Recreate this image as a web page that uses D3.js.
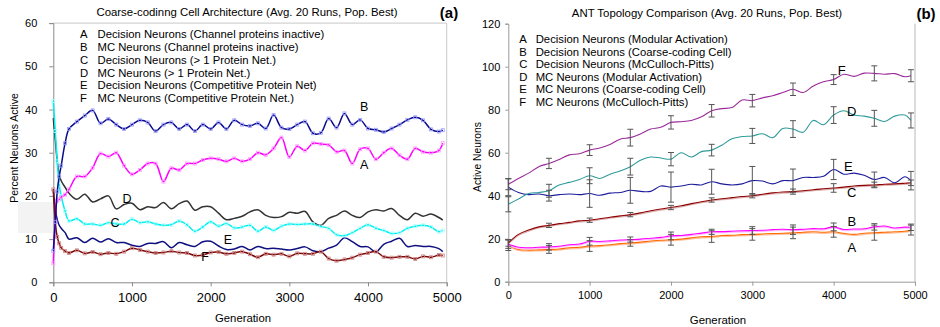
<!DOCTYPE html>
<html>
<head>
<meta charset="utf-8">
<script src="https://cdn.jsdelivr.net/npm/d3@7"></script>
<style>
  body { margin: 0; background: #fff; }
  svg text { font-family: "Liberation Sans", Arial, sans-serif; fill: #000; }
</style>
</head>
<body>
<div class="chartDiv"></div>
<script>
"use strict"

// ---- left panel data (percent neurons active) ----
var leftTitle = "Coarse-codinng Cell Architecture (Avg. 20 Runs, Pop. Best)";
var leftGen = [0,25,50,75,100,150,200,300,400,500,600,700,800,900,1000,1100,1200,1300,1400,1500,1600,1700,1800,1900,2000,
               2100,2200,2300,2400,2500,2600,2700,2800,2900,3000,3100,3200,3300,3400,3500,3600,3700,3800,3900,4000,
               4100,4200,4300,4400,4500,4600,4700,4800,4900,4950];
var leftA = [4.4,14,18.9,19.2,19.7,20.3,21.5,24.5,24.5,26.5,29.8,29.1,30,27,25,26,27.5,27.5,23.3,26.4,26,27.5,27.5,28.3,28.7,
             28.5,28,28.7,28,28.5,30,29.5,31,33.5,29,31.5,30.5,32.2,32,31.8,30.2,30.5,27.5,30.8,31,
             28.5,30,31,29.4,28.5,31,30.2,30,30.5,32.2];
var leftB = [7.3,14,21,24.5,27,32.2,35.5,37.2,38.6,39.8,36.8,37.8,36.5,35.5,36.5,37.5,37,35,36.5,37,35.5,36.5,35,36.5,35.5,
             37,35.5,37.5,36.5,36.2,36.8,35.6,38.7,35.8,35.5,36.5,37.2,34.5,34.6,37.9,35.8,39.1,36.5,37.6,35.6,
             35.3,34.8,35.6,36.5,37.6,38.2,37.5,35.4,34.9,35.2];
var leftC = [42,35,28,22.5,20,16.5,14.2,14.7,13.5,13.5,13.2,13.8,13.5,13.5,14.6,13.8,14,13.5,13.2,13.3,14.2,13.3,11.8,12.8,14,
             13,13.6,12.6,12.8,13.2,11.8,12.8,12,13,13.5,13.4,13.5,13.5,12.9,12.5,11,10.8,11.5,12.5,13.3,
             12.5,12,11.3,11.5,12.5,13,13.2,12.8,11.7,12];
var leftD = [38,33,28,25,23.5,22,20.6,19.2,20.4,18.6,19.3,20,17,18,18.3,16.8,17.5,17.3,18.5,17,18.2,18.8,16.7,17.5,17.5,
             16,14.5,14.8,15.3,16.3,16.8,15.5,15,15.2,16.2,16,16.4,14,13.2,14.8,15.5,16.5,15.5,15,16.3,
             16.8,16.5,17.1,15.5,14.5,16,15.3,15.8,15,14.4];
var leftE = [21.5,17,14.5,13.2,12.5,11.5,10,10.3,9.2,10.2,9.3,10.1,9.2,9.2,8.6,8.3,9,9,9.4,8,9.2,8.7,8.3,9.4,9.5,
             8.4,7.6,7.7,8.3,7.5,8.3,7.8,7.9,7.7,7.5,7.8,8.2,7.3,7.1,7.9,8.6,10.3,9.4,8.3,8.2,
             7,8.8,9.5,10.2,8.3,8.5,8.3,8.3,7.8,7.1];
var leftF = [21.5,14,10.5,9,8,7.2,6.8,7.4,6.7,7,6.5,6.8,6.6,7.1,7.9,7.5,7.1,6.8,6.9,7.2,6.9,6.8,6.2,6.3,6.9,
             7,6.6,6.8,7.1,6.5,5.8,6.6,6.4,6.6,6,6.7,6.6,6.6,7.1,5.5,5,5.3,5.7,6.4,6.8,
             7.1,5.9,5.7,5.9,5.9,5.4,6,5.8,6.3,6.2];
var leftLegend = ["Decision Neurons (Channel proteins inactive)", "MC Neurons (Channel proteins inactive)",
                  "Decision Neurons (> 1 Protein Net.)", "MC Neurons (> 1 Protein Net.)",
                  "Decision Neurons (Competitive Protein Net)", "MC Neurons (Competitive Protein Net.)"];
// in-plot letter tags, [generation, value]
var leftTags = {A: [3950, 27.2], B: [3950, 40.6], C: [784, 13.7], D: [936, 19.3], E: [2220, 9.8], F: [1928, 5.9]};

// ---- right panel data (active neurons) ----
var rightTitle = "ANT Topology Comparison (Avg. 20 Runs, Pop. Best)";
var rightGen = [0,125,250,375,500,625,750,875,1000,1125,1250,1375,1500,1625,1750,1875,2000,2125,2250,2375,2500,
                2625,2750,2875,3000,3125,3250,3375,3500,3625,3750,3875,4000,4125,4250,4375,4500,4625,4750,4875,4950];
var rightA = [17,15,14.7,14.8,15,15.2,15.8,16,16.6,16.8,17.2,17.7,18,18.4,18.9,19.3,19.5,19.8,20.4,20.9,21,
              21.5,21.6,21.9,22,22.2,22.4,22.5,22.7,23,23.2,23,23.2,22.5,22,22.5,22.8,23,23.2,23.5,24];
var rightB = [17.5,16,15.8,16,16.2,16.5,17.2,17.5,18.8,18.7,19,19.4,19.6,19.8,20.2,20.6,21.3,21.5,22,22.6,23.2,
              23.3,23.5,23.7,23.8,23.9,24.2,24.4,24.2,24.4,24.7,24.6,25.5,24.3,24.5,24.6,25.5,25.9,25,25.4,25.3];
var rightC = [18,22,24,25.5,26.2,27,27.6,28.3,28.6,29.3,30,30.6,31.2,32,33,33.8,34.5,35.3,36.3,37.2,38,
              38.6,39.1,39.6,40,40.7,41.3,41.7,41.9,42.3,42.8,43.2,43.6,44,44.5,44.8,45,45.3,45.5,45.8,46];
var rightD = [36,38.5,41,41.5,42.3,45,46.2,47.5,49.3,48,50,51.5,53.5,56.5,58,57.5,57,60,58,60.5,61.2,
              63.5,66.5,67.5,67.8,68.8,67,71.3,71,69.5,75,73,77.5,79.5,77.5,77,76,74.5,77,77.5,75];
var rightE = [44,41.5,40.5,40.8,40,40.5,40.8,40.5,41,40.2,41.2,41.5,42.5,42,42,44.5,44,44.5,45.3,45,46.5,
              45.5,45,45.5,47,46.8,45.5,47,47,48.5,48.5,49,52.2,50,50.5,49.5,47.5,48.5,46,48.8,47];
var rightF = [45.3,48,50.5,53.5,55,56.8,59,59.5,61.2,62.2,63.8,66.3,67,68.7,71,71.8,74.1,74.4,75,76.7,79.5,
              80.5,81,84.5,84.2,85.5,86.5,88,89.5,88,91,93,94,96.5,95.5,97,96.9,96.5,96.8,95.3,95.8];
// error bars (half widths) at these generations
var errGen = [0,500,1000,1500,2000,2500,3000,3500,4000,4500,4950];
var errA = [2.5,1.8,2.5,1.5,2.5,2.7,2.7,2.7,2.5,3.5,2.3];
var errB = [2,1.5,1.8,1.2,1.8,1.2,1.8,2.2,1.8,1.5,1.5];
var errC = [1.5,1,1,1,1,1,1,1.2,2,1.3,1.3];
var errD = [3.5,3,3.7,3.9,3.1,2.7,3.5,3.9,3.9,3.7,3.5];
var errE = [4,2.5,6.4,6,7,5.8,6.6,5.4,4.7,3.5,4.3];
var errF = [2.5,2.4,2.5,3.9,3.1,2.9,2.9,2.9,2.3,3.5,2.8];
var rightLegend = ["Decision Neurons (Modular Activation)", "Decision Neurons (Coarse-coding Cell)",
                   "Decision Neurons (McCulloch-Pitts)", "MC Neurons (Modular Activation)",
                   "MC Neurons (Coarse-coding Cell)", "MC Neurons (McCulloch-Pitts)"];
var rightTags = {A: [4222, 15.8], B: [4222, 28.2], C: [4222, 41.4], D: [4222, 79.1], E: [4181, 53.5], F: [4099, 98.1]};

var letters = ["A", "B", "C", "D", "E", "F"];
var genTicks = [0, 1000, 2000, 3000, 4000, 5000];

var width = 940, height = 327;

var svg = d3.select(".chartDiv").append("svg")
            .attr("width", width)
            .attr("height", height)
            .attr("viewBox", "0 0 " + width + " " + height);

//
/* left panel */
//
var xL = d3.scaleLinear().domain([0, 5000]).range([53.3, 446.7]);
var yL = d3.scaleLinear().domain([0, 60]).range([282.3, 23.1]);

// faint grey patch behind the axis title (present in the source image)
svg.append("rect").attr("x", 18).attr("y", 202).attr("width", 35).attr("height", 31).attr("fill", "#f3f3f3");

// frame top / right
svg.append("path")
    .attr("d", "M" + xL(0) + "," + yL(60) + "H" + xL(5000) + "V" + yL(0))
    .attr("fill", "none").attr("stroke", "#c8c8c8").attr("stroke-width", 1);

var axL = svg.append("g").attr("transform", "translate(" + xL(0) + ",0)")
    .call(d3.axisLeft(yL).tickValues([0,10,20,30,40,50,60]).tickSize(4).tickPadding(12));
var axLb = svg.append("g").attr("transform", "translate(0," + yL(0) + ")")
    .call(d3.axisBottom(xL).tickValues(genTicks).tickSize(4).tickPadding(6).tickFormat(d3.format("d")));
axL.selectAll("text").attr("font-size", 11);
axLb.selectAll("text").attr("font-size", 13);
[axL, axLb].forEach(function(a)
{
    a.select(".domain").attr("stroke", "#8a8a8a");
    a.selectAll(".tick line").attr("stroke", "#8a8a8a");
    a.selectAll("text").attr("font-family", "Liberation Sans, Arial, sans-serif");
});

var leftSeries = [
    {k: "D", v: leftD, c: "#333333", m: null},
    {k: "E", v: leftE, c: "#101080", m: null},
    {k: "F", v: leftF, c: "#7a0a0a", m: "#d08080"},
    {k: "C", v: leftC, c: "#00f0f0", m: "#a8ffff"},
    {k: "A", v: leftA, c: "#ff00ff", m: "#ff9cff"},
    {k: "B", v: leftB, c: "#0a0a8c", m: "#9a9aff"}
];

var lineL = d3.line()
    .x(function(d, i) { return xL(leftGen[i]) })
    .y(function(d) { return yL(d) })
    .curve(d3.curveCatmullRom.alpha(0.5));

leftSeries.forEach(function(s)
{
    svg.append("path").datum(s.v)
        .attr("d", lineL)
        .attr("fill", "none")
        .attr("stroke", s.c)
        .attr("stroke-width", 1.5);

    if (s.m)
    {
        svg.append("g").selectAll("rect")
            .data(s.v)
            .enter()
            .append("rect")
            .attr("x", function(d, i) { return xL(leftGen[i]) - 1.5 })
            .attr("y", function(d) { return yL(d) - 1.5 })
            .attr("width", 3)
            .attr("height", 3)
            .attr("fill", "none")
            .attr("stroke", s.m)
            .attr("stroke-width", 0.8);
    }
});

// left legend
var legL = svg.append("g");
leftLegend.forEach(function(t, i)
{
    var y = 34.5 + i * 12.7;
    legL.append("text").attr("x", 80).attr("y", y).attr("dy", "0.35em").attr("font-size", 11.3).text(letters[i]);
    legL.append("text").attr("x", 97.5).attr("y", y).attr("dy", "0.35em").attr("font-size", 11.3).text(t);
});

letters.forEach(function(k)
{
    svg.append("text")
        .attr("x", xL(leftTags[k][0])).attr("y", yL(leftTags[k][1]))
        .attr("dy", "0.35em").attr("text-anchor", "middle").attr("font-size", 12.5)
        .text(k);
});

svg.append("text").attr("x", 247).attr("y", 12.3).attr("dy", "0.35em").attr("text-anchor", "middle")
    .attr("font-size", 11.4).text(leftTitle);
svg.append("text").attr("x", 449).attr("y", 12.3).attr("dy", "0.35em").attr("text-anchor", "middle")
    .attr("font-size", 15).attr("font-weight", "bold").text("(a)");
svg.append("text").attr("x", 243).attr("y", 318).attr("dy", "0.35em").attr("text-anchor", "middle")
    .attr("font-size", 11.3).text("Generation");
svg.append("text").attr("transform", "translate(14,148) rotate(-90)").attr("dy", "0.35em")
    .attr("text-anchor", "middle").attr("font-size", 10.5).text("Percent Neurons Active");

//
/* right panel */
//
var xR = d3.scaleLinear().domain([0, 5000]).range([508.3, 915]);
var yR = d3.scaleLinear().domain([0, 120]).range([281.7, 23.7]);

svg.append("line").attr("x1", xR(5000)).attr("x2", xR(5000)).attr("y1", yR(120)).attr("y2", yR(0))
    .attr("stroke", "#d0d0d0").attr("stroke-width", 1.5);

var axR = svg.append("g").attr("transform", "translate(" + xR(0) + ",0)")
    .call(d3.axisLeft(yR).tickValues([0,20,40,60,80,100,120]).tickSize(3).tickPadding(5));
var axRb = svg.append("g").attr("transform", "translate(0," + yR(0) + ")")
    .call(d3.axisBottom(xR).tickValues(genTicks).tickSize(4).tickPadding(6).tickFormat(d3.format("d")));
[axR, axRb].forEach(function(a)
{
    a.select(".domain").attr("stroke", "#9a9a9a");
    a.selectAll(".tick line").attr("stroke", "#9a9a9a");
    a.selectAll("text").attr("font-size", 11).attr("font-family", "Liberation Sans, Arial, sans-serif");
});

var rightSeries = [
    {k: "A", v: rightA, e: errA, c: "#ff6a00", g: "#ffc09a"},
    {k: "B", v: rightB, e: errB, c: "#ff00ff", g: "#ffb8ff"},
    {k: "C", v: rightC, e: errC, c: "#8c0000", g: "#ddb0b0"},
    {k: "E", v: rightE, e: errE, c: "#1c1c9c", g: null},
    {k: "D", v: rightD, e: errD, c: "#2f9a9a", g: null},
    {k: "F", v: rightF, e: errF, c: "#9a2a9a", g: null}
];

var lineR = d3.line()
    .x(function(d, i) { return xR(rightGen[i]) })
    .y(function(d) { return yR(d) })
    .curve(d3.curveCatmullRom.alpha(0.5));

rightSeries.forEach(function(s)
{
    if (s.g)
    {
        svg.append("path").datum(s.v)
            .attr("d", lineR)
            .attr("transform", "translate(0,1)")
            .attr("fill", "none")
            .attr("stroke", s.g)
            .attr("stroke-width", 1.3);
    }
    svg.append("path").datum(s.v)
        .attr("d", lineR)
        .attr("fill", "none")
        .attr("stroke", s.c)
        .attr("stroke-width", 1.1);
});

rightSeries.forEach(function(s)
{
    var bars = svg.append("g").attr("stroke", "#555").attr("stroke-width", 1);
    errGen.forEach(function(g, i)
    {
        var mean = s.v[rightGen.indexOf(g)];
        var x = xR(g);
        var y0 = yR(mean - s.e[i]), y1 = yR(mean + s.e[i]);
        bars.append("line").attr("x1", x).attr("x2", x).attr("y1", y0).attr("y2", y1);
        bars.append("line").attr("x1", x - 3).attr("x2", x + 3).attr("y1", y0).attr("y2", y0);
        bars.append("line").attr("x1", x - 3).attr("x2", x + 3).attr("y1", y1).attr("y2", y1);
    });
});

var legR = svg.append("g");
rightLegend.forEach(function(t, i)
{
    var y = 39.3 + i * 12.5;
    legR.append("text").attr("x", 519.3).attr("y", y).attr("dy", "0.35em").attr("font-size", 11.3).text(letters[i]);
    legR.append("text").attr("x", 535.7).attr("y", y).attr("dy", "0.35em").attr("font-size", 11.3).text(t);
});

letters.forEach(function(k)
{
    svg.append("text")
        .attr("x", xR(rightTags[k][0])).attr("y", yR(rightTags[k][1]))
        .attr("dy", "0.35em").attr("text-anchor", "middle").attr("font-size", 13)
        .text(k);
});

svg.append("text").attr("x", 707).attr("y", 13.3).attr("dy", "0.35em").attr("text-anchor", "middle")
    .attr("font-size", 11.4).text(rightTitle);
svg.append("text").attr("x", 926).attr("y", 13.3).attr("dy", "0.35em").attr("text-anchor", "middle")
    .attr("font-size", 15).attr("font-weight", "bold").text("(b)");
svg.append("text").attr("x", 718).attr("y", 320).attr("dy", "0.35em").attr("text-anchor", "middle")
    .attr("font-size", 11.4).text("Generation");
svg.append("text").attr("transform", "translate(477,157) rotate(-90)").attr("dy", "0.35em")
    .attr("text-anchor", "middle").attr("font-size", 10.3).text("Active Neurons");
</script>
</body>
</html>
